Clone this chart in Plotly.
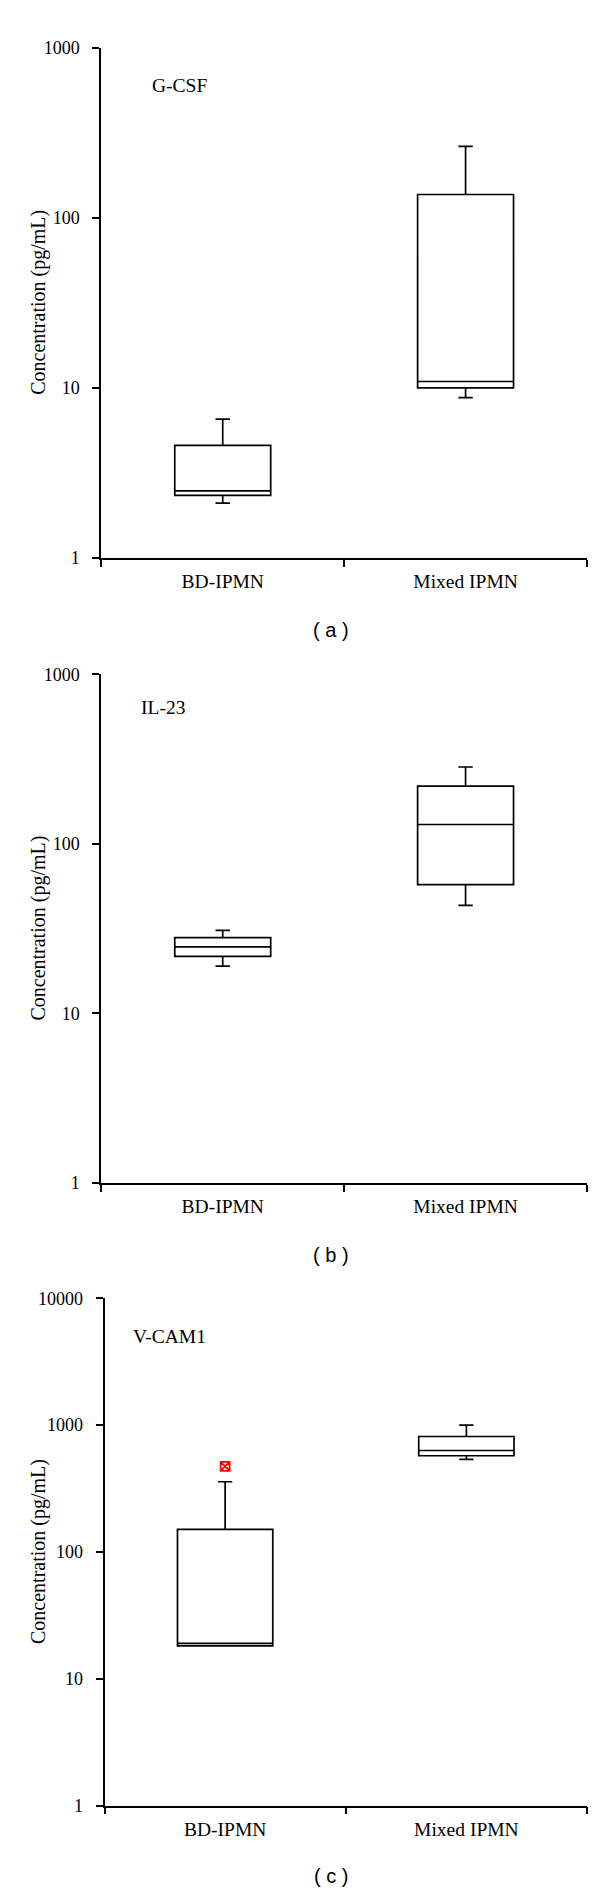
import plotly.graph_objects as go

categories = ["BD-IPMN", "Mixed IPMN"]

# Panel (a) G-CSF
a_lower = [2.10, 8.76]
a_q1 = [2.33, 10.0]
a_median = [2.48, 10.9]
a_q3 = [4.59, 137]
a_upper = [6.55, 263]

# Panel (b) IL-23
b_lower = [19.0, 43.4]
b_q1 = [21.7, 57.4]
b_median = [24.7, 130]
b_q3 = [28.0, 219]
b_upper = [30.9, 284]

# Panel (c) V-CAM1
c_lower = [18.2, 538]
c_q1 = [18.2, 574]
c_median = [19.0, 631]
c_q3 = [151, 814]
c_upper = [358, 1000]
c_outlier_x = ["BD-IPMN"]
c_outlier_y = [474]

panel_names = ["G-CSF", "IL-23", "V-CAM1"]
captions = ["( a )", "( b )", "( c )"]
yticks_ab = [1, 10, 100, 1000]
yticks_c = [1, 10, 100, 1000, 10000]
ytitle = "Concentration (pg/mL)"

W, H = 600, 1894
SERIF = "Liberation Serif"
SANS = "Liberation Sans"


def py(px):
    return 1 - px / H


def pxx(px):
    return px / W


fig = go.Figure()

panels = [
    (a_lower, a_q1, a_median, a_q3, a_upper),
    (b_lower, b_q1, b_median, b_q3, b_upper),
    (c_lower, c_q1, c_median, c_q3, c_upper),
]

for i, (lo, q1, med, q3, up) in enumerate(panels):
    sfx = "" if i == 0 else str(i + 1)
    fig.add_trace(go.Box(
        x=categories, q1=q1, median=med, q3=q3,
        lowerfence=lo, upperfence=up,
        boxpoints=False,
        width=0.395, whiskerwidth=0.15,
        fillcolor="white",
        line=dict(color="black", width=1.7),
        xaxis="x" + sfx, yaxis="y" + sfx,
        showlegend=False, hoverinfo="skip",
    ))

fig.add_trace(go.Scatter(
    x=c_outlier_x, y=c_outlier_y, mode="markers",
    marker=dict(symbol="square-x-open", color="red", size=9,
                line=dict(color="red", width=1.8)),
    xaxis="x3", yaxis="y3", showlegend=False, hoverinfo="skip",
))

# geometry in pixels
ydom_px = [(30, 545.7), (663.3, 1177.3), (1294, 1806.7)]
xdom_px = [(93.3, 579), (93.3, 579), (96.5, 579)]
yranges = [[0, 3], [0, 3], [0, 4]]
ytv = [yticks_ab, yticks_ab, yticks_c]
label_pos = [(141.7, 68), (130.7, 697), (122.7, 1333)]
caption_y = [618.3, 1250.6, 1877.5]

layout = dict(
    width=W, height=H,
    margin=dict(l=0, r=0, t=0, b=0),
    paper_bgcolor="white", plot_bgcolor="white",
    showlegend=False,
    font=dict(family=SERIF, size=19, color="black"),
)

annotations = []
for i in range(3):
    sfx = "" if i == 0 else str(i + 1)
    x0, x1 = xdom_px[i]
    y0, y1 = ydom_px[i]
    layout["xaxis" + sfx] = dict(
        domain=[pxx(x0), pxx(x1)],
        anchor="y" + sfx,
        type="category",
        categoryorder="array", categoryarray=categories,
        range=[-0.5, 1.5],
        tickson="boundaries",
        ticks="outside", ticklen=7, tickwidth=1.7, tickcolor="black",
        showline=True, linecolor="black", linewidth=1.7,
        showgrid=False, zeroline=False,
        tickfont=dict(family=SERIF, size=19.5, color="black"),
        ticklabelstandoff=5,
        fixedrange=True,
    )
    tv = ytv[i]
    layout["yaxis" + sfx] = dict(
        domain=[py(y1), py(y0)],
        anchor="x" + sfx,
        type="log",
        range=yranges[i],
        tickvals=tv, ticktext=[str(v) for v in tv],
        ticks="outside", ticklen=7, tickwidth=1.7, tickcolor="black",
        showline=True, linecolor="black", linewidth=1.7,
        showgrid=False, zeroline=False,
        tickfont=dict(family=SERIF, size=18, color="black"),
        ticklabelstandoff=9,
        fixedrange=True,
    )
    # y-axis title
    annotations.append(dict(
        text=ytitle, xref="paper", yref="paper",
        x=pxx(31), y=py((y0 + y1) / 2),
        xanchor="center", yanchor="middle", textangle=-90,
        showarrow=False, font=dict(family=SERIF, size=20, color="black"),
    ))
    # panel label
    lx, ly = label_pos[i]
    annotations.append(dict(
        text=panel_names[i], xref="paper", yref="paper",
        x=pxx(lx), y=py(ly), xanchor="left", yanchor="middle",
        showarrow=False, font=dict(family=SERIF, size=19.5, color="black"),
    ))
    # caption
    annotations.append(dict(
        text=captions[i], xref="paper", yref="paper",
        x=pxx(322.7), y=py(caption_y[i]), xanchor="center", yanchor="middle",
        showarrow=False, font=dict(family=SANS, size=20, color="black"),
    ))

layout["annotations"] = annotations
fig.update_layout(**layout)
fig.write_html("out.html")
